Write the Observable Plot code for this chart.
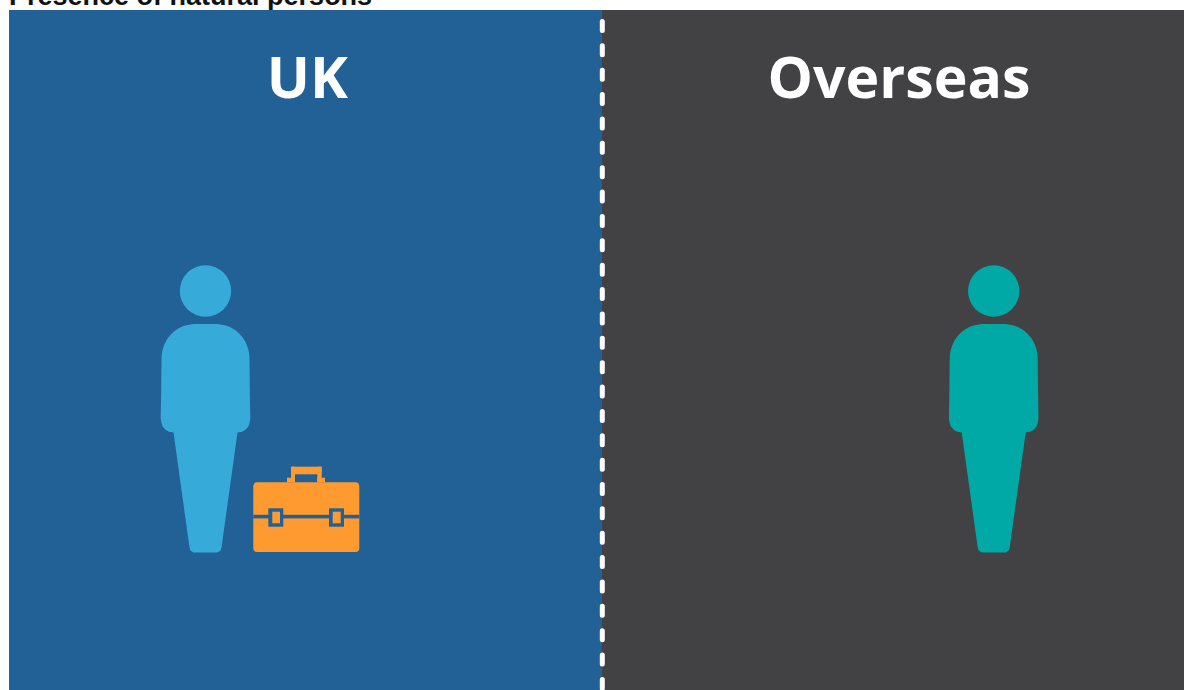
<!DOCTYPE html>
<html>
<head>
<meta charset="utf-8">
<script src="https://cdn.jsdelivr.net/npm/d3@7"></script>
<script src="https://cdn.jsdelivr.net/npm/@observablehq/plot@0.6"></script>
<style>
html,body{margin:0;padding:0;background:#fff;overflow:hidden;width:1184px;height:690px}
#title{position:absolute;left:9px;top:-17px;font:bold 27px/26px "Liberation Sans",Arial,sans-serif;color:#111;white-space:nowrap}
#chart{position:absolute;left:9px;top:10px}
#chart svg{display:block}
</style>
</head>
<body>
<div id="title">Presence of natural persons</div>
<div id="chart"></div>
<script>
// Panels
const panelNames = ["UK", "Overseas"];
const panelStart = [9, 602];
const panelEnd = [602, 1184];
const panelColors = ["#226195", "#424143"];
const labelCentre = [306.8, 898.5];
// People
const personCentre = [205, 993.2];
const personColors = ["#36ABDA", "#00A8A6"];
const headY = 290.5;
// Half outline of a person: [offset from centre, y]
const personHalf = [[0,323.6],[12,323.6],[16.2,324.2],[20.3,325],[24.3,326.4],[28,328.4],[31.5,331],[34.6,334],[37.4,337.3],[39.7,341],[41.5,345],[42.9,349.2],[43.7,353.5],[44,358],[44.3,388],[44.8,418],[44.2,422],[42.8,426],[40,429.3],[36.5,431.3],[32,432],[16,547],[15,550],[12,552],[0,552]];
// Briefcase
const caseColor = "#FF9A30";
const caseBody = [{x1:253.3,x2:359.3,y1:482.3,y2:552}];
const caseHandle = [
  {x1:291,x2:321.7,y1:466.7,y2:474.3},
  {x1:291,x2:295,y1:466.7,y2:482.3},
  {x1:317.3,x2:321.7,y1:466.7,y2:482.3},
  {x1:287,x2:295,y1:477.7,y2:482.3},
  {x1:317.3,x2:325,y1:477.7,y2:482.3}
];
const caseStrap = [{x1:253.3,x2:359.3,y1:514.8,y2:518.4}];
const buckleOuter = [{x1:268.3,x2:283.3,y1:508.3,y2:526.7},{x1:329,x2:344,y1:508.3,y2:526.7}];
const buckleInner = [{x1:272.3,x2:280,y1:511.7,y2:523.3},{x1:332.7,x2:340.7,y1:511.7,y2:523.3}];
// Divider
const dividerX = 601.8;

const panels = panelNames.map((name,i)=>({name,x1:panelStart[i],x2:panelEnd[i],fill:panelColors[i],lx:labelCentre[i],px:personCentre[i],body:personColors[i]}));
const outline = p => [
  ...personHalf.map(([d,y])=>({x:p.px+d,y})),
  ...personHalf.slice().reverse().map(([d,y])=>({x:p.px-d,y}))
];
const rect = (data,fill,extra={}) => Plot.rect(data,{x1:"x1",x2:"x2",y1:"y1",y2:"y2",fill,...extra});

const plot = Plot.plot({
  width:1175, height:680,
  margin:0,
  style:{background:"transparent"},
  x:{domain:[9,1184],axis:null},
  y:{domain:[690,10],axis:null},
  marks:[
    Plot.rect(panels,{x1:"x1",x2:"x2",y1:()=>10,y2:()=>690,fill:"fill"}),
    Plot.ruleX([dividerX],{stroke:"#fff",strokeWidth:5,strokeLinecap:"round",strokeDasharray:"9 15.37",strokeDashoffset:12.9}),
    Plot.text(panels,{x:"lx",y:()=>97,text:"name",fill:"#fff",fontFamily:"Open Sans",fontWeight:700,fontSize:57.2,textAnchor:"middle",lineAnchor:"bottom"}),
    Plot.dot(panels,{x:"px",y:()=>headY,r:25.7,fill:"body",stroke:"none"}),
    ...panels.map(p=>Plot.line(outline(p),{x:"x",y:"y",fill:p.body,stroke:"none"})),
    rect(caseBody,caseColor,{rx:4}),
    rect(caseHandle,caseColor),
    rect(caseStrap,panelColors[0]),
    rect(buckleOuter,panelColors[0]),
    rect(buckleInner,caseColor)
  ]
});
document.getElementById("chart").appendChild(plot);
</script>
</body>
</html>
